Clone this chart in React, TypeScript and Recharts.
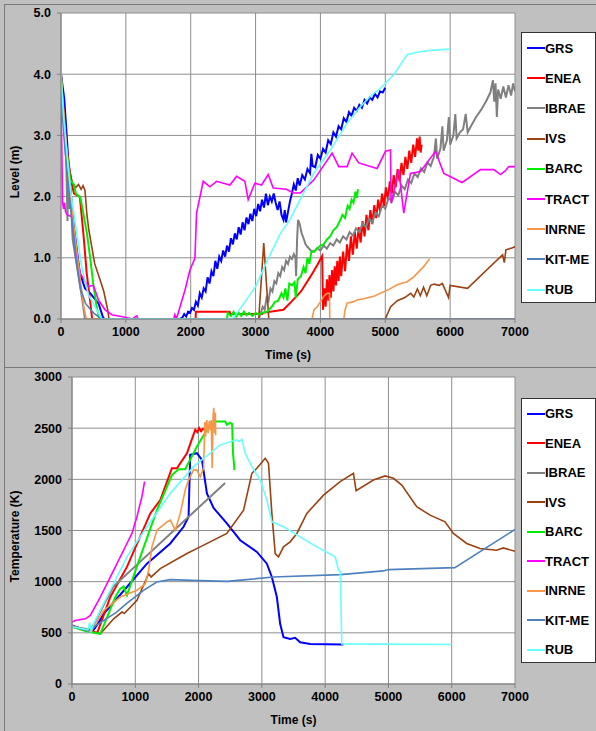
import React from "react";
import { CartesianGrid, Label, Legend, Line, LineChart, XAxis, YAxis } from "recharts";

type Pt = [number, number];

const timeTicks = [0, 1000, 2000, 3000, 4000, 5000, 6000, 7000];
const levelTicks = [0, 1, 2, 3, 4, 5];
const tempTicks = [0, 500, 1000, 1500, 2000, 2500, 3000];

const names = ["GRS", "ENEA", "IBRAE", "IVS", "BARC", "TRACT", "INRNE", "KIT-ME", "RUB"];
const colors = ["#0000ff", "#ff0000", "#808080", "#9c4110", "#00ee00", "#ff00ff", "#f79646", "#4f81bd", "#66ffff"];

// ---- level (m) ----
const grsLevel: Pt[] = [
  [0, 4.0], [50, 3.6], [100, 2.8], [130, 2.3], [200, 1.5], [290, 0.75], [370, 0.5], [450, 0.42], [580, 0.25], [650, 0.02], [680, 0],
  [1830, 0], [1870, 0.02], [1900, 0.08], [1930, 0.04], [1960, 0.12], [1990, 0.1], [2020, 0.18], [2050, 0.15], [2080, 0.28],
  [2110, 0.22], [2140, 0.42], [2170, 0.35], [2200, 0.5], [2230, 0.45], [2260, 0.68], [2290, 0.58], [2320, 0.78], [2350, 0.7],
  [2380, 0.95], [2410, 0.82], [2440, 1.02], [2470, 0.95], [2500, 1.12], [2530, 1.02], [2560, 1.2], [2590, 1.1], [2620, 1.32],
  [2650, 1.22], [2680, 1.4], [2710, 1.3], [2740, 1.5], [2770, 1.38], [2800, 1.58], [2830, 1.45], [2860, 1.66], [2890, 1.55],
  [2920, 1.72], [2950, 1.6], [2980, 1.8], [3010, 1.68], [3040, 1.88], [3070, 1.76], [3100, 1.95], [3130, 1.82], [3160, 2.05],
  [3190, 1.86], [3220, 2.0], [3250, 1.92], [3280, 2.05], [3310, 1.9], [3340, 1.78], [3370, 1.92], [3400, 1.7], [3430, 1.62],
  [3450, 1.78], [3470, 1.58], [3500, 1.75], [3530, 1.92], [3560, 2.05], [3590, 2.2], [3620, 2.1], [3650, 2.3], [3680, 2.18],
  [3720, 2.35], [3760, 2.28], [3800, 2.45], [3840, 2.38], [3860, 2.7], [3880, 2.5], [3920, 2.48], [3960, 2.68], [4000, 2.62],
  [4040, 2.78], [4080, 2.72], [4120, 2.92], [4160, 2.86], [4200, 3.05], [4240, 2.98], [4280, 3.15], [4320, 3.1], [4360, 3.28],
  [4400, 3.22], [4440, 3.38], [4480, 3.32], [4520, 3.45], [4560, 3.4], [4600, 3.5], [4640, 3.45], [4680, 3.58], [4720, 3.52],
  [4760, 3.62], [4800, 3.58], [4840, 3.68], [4880, 3.62], [4920, 3.72], [4960, 3.7], [5000, 3.78],
];
const eneaLevel: Pt[] = [
  [0, 4.0], [60, 3.0], [150, 2.3], [200, 2.05], [290, 2.0], [345, 1.4], [396, 0.75], [448, 0.31], [480, 0],
  [2075, 0], [2080, 0.12], [2600, 0.12], [2610, 0.08], [3100, 0.08], [3110, 0.1], [3430, 0.15], [3550, 0.28], [3700, 0.45],
  [3850, 0.7], [3950, 0.88], [4027, 1.03], [4040, 0.15], [4060, 0.5], [4080, 0.2], [4100, 0.65], [4120, 0.3], [4140, 0.72],
  [4160, 0.35], [4180, 0.8], [4200, 0.45], [4220, 0.86], [4240, 0.55], [4260, 0.95], [4280, 0.62], [4300, 1.02], [4320, 0.7],
  [4350, 1.1], [4380, 0.78], [4410, 1.22], [4440, 0.95], [4470, 1.35], [4500, 1.05], [4530, 1.42], [4560, 1.15], [4590, 1.5],
  [4620, 1.25], [4650, 1.6], [4680, 1.35], [4710, 1.7], [4740, 1.45], [4770, 1.78], [4800, 1.55], [4830, 1.86], [4860, 1.65],
  [4890, 1.95], [4920, 1.75], [4950, 2.05], [4980, 1.85], [5010, 2.15], [5040, 1.95], [5070, 2.25], [5100, 2.05], [5130, 2.35],
  [5160, 2.15], [5190, 2.45], [5220, 2.25], [5250, 2.55], [5280, 2.35], [5310, 2.65], [5340, 2.45], [5370, 2.75], [5400, 2.55],
  [5430, 2.85], [5460, 2.65], [5490, 2.95], [5510, 2.75], [5530, 2.98], [5545, 2.72], [5560, 2.85],
];
const ibraeLevel: Pt[] = [
  [0, 3.9], [40, 3.2], [80, 2.6], [100, 1.6], [110, 2.4], [130, 1.8], [150, 2.0], [180, 1.3], [270, 0.7], [330, 0.3], [370, 0],
  [3050, 0], [3080, 0.1], [3110, 0.2], [3140, 0.15], [3170, 0.35], [3200, 0.3], [3230, 0.5], [3260, 0.45], [3290, 0.62],
  [3320, 0.58], [3350, 0.75], [3380, 0.7], [3410, 0.85], [3440, 0.8], [3470, 0.95], [3500, 0.9], [3530, 1.02], [3560, 0.98],
  [3590, 1.06], [3615, 1.0], [3625, 0.7], [3640, 1.3], [3655, 1.62], [3680, 1.55], [3710, 1.4], [3740, 1.32], [3770, 1.22],
  [3800, 1.18], [3850, 1.12], [3900, 1.1], [3950, 1.16], [4000, 1.12], [4050, 1.2], [4100, 1.15], [4150, 1.24], [4200, 1.2],
  [4250, 1.3], [4300, 1.25], [4350, 1.35], [4400, 1.3], [4450, 1.42], [4500, 1.36], [4550, 1.48], [4600, 1.42], [4650, 1.56],
  [4700, 1.5], [4750, 1.64], [4800, 1.58], [4850, 1.74], [4900, 1.68], [4950, 1.86], [5000, 1.8], [5050, 1.98], [5100, 1.92],
  [5150, 2.08], [5200, 2.02], [5250, 2.18], [5300, 2.12], [5350, 2.28], [5400, 2.22], [5450, 2.38], [5500, 2.32], [5550, 2.46],
  [5600, 2.4], [5650, 2.56], [5700, 2.5], [5750, 2.65], [5780, 2.95], [5800, 2.62], [5850, 2.78], [5880, 3.15], [5900, 2.75],
  [5950, 2.92], [5980, 3.3], [6000, 2.85], [6050, 3.0], [6080, 3.35], [6100, 2.95], [6150, 3.05], [6200, 3.1], [6240, 3.35],
  [6270, 3.05], [6320, 3.15], [6400, 3.3], [6480, 3.42], [6550, 3.55], [6620, 3.7], [6660, 3.9], [6680, 3.55], [6700, 3.85],
  [6720, 3.3], [6740, 3.75], [6780, 3.6], [6820, 3.8], [6860, 3.62], [6900, 3.82], [6940, 3.65], [6970, 3.85], [7000, 3.72],
];
const ivsLevel: Pt[] = [
  [0, 4.0], [60, 3.0], [120, 2.5], [180, 2.2], [230, 2.15], [270, 2.2], [310, 2.12], [340, 2.18], [370, 2.1], [400, 1.7],
  [430, 1.45], [520, 0.9], [600, 0.65], [660, 0.45], [720, 0.15], [740, 0],
  [3048, 0], [3126, 1.24], [3204, 0], [5000, 0], [5083, 0.2], [5186, 0.3], [5300, 0.35], [5392, 0.42], [5440, 0.36],
  [5495, 0.49], [5540, 0.38], [5590, 0.52], [5640, 0.38], [5700, 0.55], [5750, 0.57], [5830, 0.55], [5880, 0.58],
  [5975, 0.35], [6000, 0.55], [6268, 0.5], [6809, 1.05], [6835, 0.92], [6860, 1.13], [6950, 1.16], [7000, 1.18],
];
const barcLevel: Pt[] = [
  [0, 4.0], [30, 3.4], [80, 2.8], [140, 2.27], [200, 2.2], [230, 2.05], [300, 1.98], [340, 1.75], [400, 1.4], [450, 1.0],
  [500, 0.55], [550, 0.2], [590, 0],
  [2560, 0], [2570, 0.1], [2620, 0.05], [2660, 0.12], [2700, 0.04], [2740, 0.1], [2780, 0.05], [2820, 0.12], [2860, 0.06],
  [2900, 0.1], [2950, 0.05], [3000, 0.1], [3050, 0.07], [3100, 0.1], [3180, 0.12], [3250, 0.2], [3300, 0.28], [3350, 0.3],
  [3400, 0.42], [3430, 0.35], [3460, 0.5], [3490, 0.3], [3520, 0.58], [3560, 0.55], [3600, 0.6], [3620, 0.35], [3650, 0.65],
  [3700, 0.7], [3740, 0.85], [3770, 0.75], [3800, 1.0], [3830, 0.9], [3860, 1.1], [3900, 1.1], [3950, 1.15], [4000, 1.2],
  [4050, 1.22], [4100, 1.3], [4150, 1.35], [4200, 1.45], [4250, 1.5], [4300, 1.6], [4340, 1.7], [4380, 1.65], [4420, 1.85],
  [4450, 1.8], [4480, 1.95], [4510, 1.9], [4540, 2.08], [4560, 1.98], [4580, 2.12],
];
const tractLevel: Pt[] = [
  [0, 3.7], [25, 1.9], [40, 1.8], [55, 1.9], [70, 1.75], [100, 1.7], [165, 1.67], [216, 1.18], [294, 0.75], [422, 0.53],
  [500, 0.55], [577, 0.31], [680, 0.15], [783, 0.07], [989, 0.03], [1100, 0], [1168, 0.05], [1190, 0], [1740, 0],
  [1756, 0.07], [1780, 0], [1911, 0.47], [1988, 0.8], [2065, 0.99], [2090, 1.73], [2193, 2.25], [2296, 2.16], [2399, 2.25],
  [2604, 2.19], [2707, 2.33], [2835, 2.25], [2886, 1.95], [2989, 2.22], [3092, 2.19], [3195, 2.36], [3272, 2.14],
  [3477, 2.12], [3580, 2.06], [3692, 2.06], [3897, 2.27], [4180, 2.71], [4283, 2.49], [4411, 2.49], [4488, 2.71],
  [4591, 2.55], [4874, 2.46], [5003, 2.74], [5080, 2.76], [5090, 1.89], [5208, 2.44], [5285, 1.73], [5388, 2.38],
  [5542, 2.41], [5774, 2.74], [5902, 2.38], [6185, 2.23], [6468, 2.44], [6674, 2.44], [6776, 2.36], [6850, 2.42],
  [6905, 2.49], [7000, 2.49],
];
const inrneLevel: Pt[] = [
  [0, 3.95], [50, 3.3], [100, 2.6], [150, 2.0], [200, 1.5], [280, 0.8], [350, 0.2], [390, 0],
  [3870, 0], [3900, 0.15], [3950, 0.2], [4000, 0.28], [4051, 0.37], [4103, 0.42], [4140, 0.42], [4144, 0], [4360, 0],
  [4380, 0.15], [4411, 0.26], [4500, 0.28], [4566, 0.31], [4700, 0.34], [4823, 0.37], [4925, 0.42], [5050, 0.48],
  [5183, 0.56], [5337, 0.61], [5440, 0.69], [5594, 0.86], [5681, 0.98],
];
const kitLevel: Pt[] = [
  [0, 3.7], [60, 2.8], [110, 2.2], [170, 1.6], [230, 1.0], [300, 0.5], [380, 0.25], [500, 0.1], [600, 0.02], [650, 0], [7000, 0],
];
const rubLevel: Pt[] = [
  [0, 4.0], [40, 3.3], [100, 2.6], [160, 2.0], [216, 1.6], [319, 0.85], [422, 0.4], [577, 0.1], [630, 0],
  [2640, 0], [2700, 0.08], [2850, 0.3], [3000, 0.53], [3200, 1.0], [3383, 1.4], [3529, 1.62], [3700, 1.98], [3897, 2.38],
  [4154, 2.76], [4411, 3.2], [4600, 3.45], [4771, 3.64], [4925, 3.77], [5131, 3.99], [5337, 4.32], [5491, 4.36],
  [5697, 4.39], [5995, 4.41],
];

// ---- temperature (K) ----
const grsTemp: Pt[] = [
  [0, 572], [150, 540], [316, 507], [400, 580], [500, 686], [868, 948], [1184, 1176], [1553, 1373], [1763, 1536],
  [1842, 1634], [1868, 2239], [1974, 2255], [2053, 2190], [2132, 1863], [2237, 1720], [2447, 1569], [2658, 1405],
  [2921, 1291], [3079, 1176], [3158, 1046], [3237, 850], [3289, 588], [3342, 458], [3447, 441], [3526, 451], [3605, 408],
  [3763, 392], [4289, 386],
];
const eneaTemp: Pt[] = [
  [0, 560], [200, 530], [400, 500], [605, 850], [868, 1144], [1237, 1667], [1395, 1797], [1579, 2108], [1658, 2108],
  [1816, 2255], [1947, 2484], [1980, 2460], [2010, 2500], [2040, 2470], [2079, 2500],
];
const ibraeTemp: Pt[] = [[0, 560], [300, 530], [650, 950], [2420, 1965]];
const ivsTemp: Pt[] = [
  [0, 560], [200, 530], [447, 490], [658, 637], [789, 703], [830, 690], [1026, 817], [1211, 1078], [1250, 1046],
  [1395, 1127], [1816, 1275], [2026, 1340], [2447, 1471], [2711, 1699], [2842, 2059], [2921, 2108], [3053, 2206],
  [3105, 2157], [3158, 1667], [3211, 1275], [3263, 1242], [3342, 1340], [3447, 1389], [3553, 1471], [3711, 1667],
  [3974, 1846], [4237, 1977], [4447, 2059], [4489, 1889], [4763, 1993], [4947, 2033], [5079, 2010], [5211, 1944],
  [5447, 1732], [5658, 1650], [5895, 1585], [6026, 1471], [6237, 1373], [6447, 1324], [6711, 1307], [6816, 1330],
  [7000, 1297],
];
const barcTemp: Pt[] = [
  [0, 560], [200, 520], [447, 490], [684, 850], [760, 930], [816, 954], [868, 866], [1079, 1242], [1342, 1699],
  [1579, 2042], [1684, 2098], [1789, 2098], [1974, 2320], [2132, 2484], [2263, 2565], [2421, 2565], [2447, 2533],
  [2500, 2553], [2530, 2540], [2545, 2250], [2560, 2150], [2565, 2090],
];
const tractTemp: Pt[] = [
  [0, 605], [50, 621], [211, 637], [290, 670], [447, 850], [658, 1111], [868, 1373], [947, 1471], [1026, 1634],
  [1105, 1830], [1147, 1977],
];
const inrneTemp: Pt[] = [
  [0, 570], [300, 510], [500, 719], [763, 850], [1026, 915], [1158, 980], [1211, 1111], [1263, 1340], [1342, 1503],
  [1500, 1585], [1553, 1601], [1632, 1503], [1711, 1667], [1789, 1895], [1842, 1993], [1921, 2092], [1970, 2092],
  [2026, 2026], [2079, 2108], [2100, 2560], [2110, 2420], [2130, 2580], [2150, 2450], [2170, 2570], [2190, 2480],
  [2200, 2580], [2215, 2110], [2230, 2620], [2240, 2700], [2255, 2450], [2265, 2650], [2270, 2430],
];
const kitTemp: Pt[] = [
  [0, 565], [250, 520], [450, 600], [700, 700], [870, 790], [1130, 915], [1340, 997], [1550, 1020], [1900, 1013],
  [2450, 1003], [2760, 1020], [3180, 1046], [4240, 1069], [4920, 1105], [5000, 1118], [6050, 1137], [7000, 1510],
];
const rubTemp: Pt[] = [
  [0, 560], [250, 530], [280, 600], [300, 520], [342, 588], [553, 850], [868, 1242], [1184, 1536], [1553, 1863],
  [1921, 2124], [2342, 2337], [2605, 2386], [2640, 2370], [2684, 2390], [2737, 2255], [2842, 2124], [2974, 1993],
  [3079, 1797], [3158, 1585], [3342, 1536], [3605, 1438], [3868, 1340], [4158, 1242], [4211, 1111], [4240, 1100],
  [4263, 392], [4800, 390], [6000, 386],
];

const levelSeries = [grsLevel, eneaLevel, ibraeLevel, ivsLevel, barcLevel, tractLevel, inrneLevel, kitLevel, rubLevel];
const tempSeries = [grsTemp, eneaTemp, ibraeTemp, ivsTemp, barcTemp, tractTemp, inrneTemp, kitTemp, rubTemp];
const widths = [2, 2, 2, 1.6, 2, 1.6, 1.6, 1.6, 1.6];

const toPts = (arr: Pt[]) => arr.map(([t, v]) => ({ t, v }));

const font = "Arial, 'Liberation Sans', sans-serif";
const tickStyle = { fill: "#000", fontFamily: font, fontWeight: 700, fontSize: 12.5 };
const titleStyle = { fill: "#000", fontFamily: font, fontWeight: 700, fontSize: 12 };

const yTitle = (text: string) => (props: any) => {
  const vb = props.viewBox;
  const x = 15;
  const y = vb.y + vb.height / 2 + 6;
  return (
    <text x={x} y={y} transform={`rotate(-90 ${x} ${y})`} textAnchor="middle" dominantBaseline="central" style={titleStyle}>
      {text}
    </text>
  );
};

const xTitle = (props: any) => {
  const vb = props.viewBox;
  return (
    <text x={vb.x + vb.width / 2} y={vb.y + 36} textAnchor="middle" dominantBaseline="central" style={titleStyle}>
      Time (s)
    </text>
  );
};

const legendBox = (gap: number) => () => (
  <div
    style={{
      width: "100%", height: "100%", background: "#fff", border: "1px solid #333",
      boxSizing: "border-box", paddingTop: 0,
    }}
  >
    {names.map((n, i) => (
      <div key={n} style={{ height: gap, display: "flex", alignItems: "center" }}>
        <span style={{ display: "inline-block", width: 18, height: 2, background: colors[i], marginLeft: 5 }} />
        <span style={{ fontFamily: font, fontWeight: 700, fontSize: 13, color: "#000" }}>{n}</span>
      </div>
    ))}
  </div>
);

interface PanelProps {
  height: number;
  top: number;
  yWidth: number;
  ticks: number[];
  yMax: number;
  fmt: (v: number) => string;
  series: Pt[][];
  ylabel: string;
  legendTop: number;
  legendHeight: number;
  gap: number;
}

const Panel = (p: PanelProps) => (
  <LineChart
    width={596}
    height={p.height}
    margin={{ top: p.top, right: 81, bottom: 0, left: 0 }}
    style={{ position: "absolute", left: 0, top: 0 }}
  >
    <CartesianGrid stroke="#8e8e8e" fill="#fff" horizontalValues={p.ticks} verticalValues={timeTicks} />
    <XAxis
      dataKey="t"
      type="number"
      domain={[0, 7000]}
      ticks={timeTicks}
      allowDataOverflow
      height={p.height - p.top - 306 > 47 ? 47 : p.height - p.top - 306}
      tick={tickStyle}
      tickSize={4}
      tickMargin={4}
      stroke="#808080"
    >
      <Label content={xTitle} />
    </XAxis>
    <YAxis
      type="number"
      domain={[0, p.yMax]}
      ticks={p.ticks}
      allowDataOverflow
      width={p.yWidth}
      tick={tickStyle}
      tickFormatter={p.fmt}
      tickSize={4}
      tickMargin={6}
      stroke="#808080"
    >
      <Label content={yTitle(p.ylabel)} />
    </YAxis>
    <Legend
      layout="horizontal"
      verticalAlign="middle"
      align="center"
      content={legendBox(p.gap)}
      wrapperStyle={{ position: "absolute", left: 521, top: p.legendTop, width: 75, height: p.legendHeight }}
    />
    {p.series.map((s, i) => (
      <Line
        key={names[i]}
        data={toPts(s)}
        dataKey="v"
        name={names[i]}
        stroke={colors[i]}
        strokeWidth={widths[i]}
        dot={false}
        activeDot={false}
        type="linear"
        isAnimationActive={false}
      />
    ))}
  </LineChart>
);

export default function App() {
  return (
    <div style={{ position: "absolute", left: 0, top: 0, width: 596, height: 731, background: "#c0c0c0", overflow: "hidden" }}>
      <div style={{ position: "absolute", left: 4, top: 4, width: 600, height: 362, borderTop: "1px solid #7a7a7a", borderLeft: "1px solid #7a7a7a", borderBottom: "1px solid #7a7a7a" }} />
      <div style={{ position: "absolute", left: 4, top: 367, width: 600, height: 400, borderTop: "1px solid #7a7a7a", borderLeft: "1px solid #7a7a7a" }} />
      <div style={{ position: "absolute", left: 0, top: 0, width: 596, height: 366 }}>
        <Panel
          height={366}
          top={13}
          yWidth={61}
          ticks={levelTicks}
          yMax={5}
          fmt={(v) => v.toFixed(1)}
          series={levelSeries}
          ylabel="Level (m)"
          legendTop={32}
          legendHeight={271}
          gap={30.2}
        />
      </div>
      <div style={{ position: "absolute", left: 0, top: 366, width: 596, height: 365 }}>
        <Panel
          height={365}
          top={11}
          yWidth={72}
          ticks={tempTicks}
          yMax={3000}
          fmt={(v) => String(v)}
          series={tempSeries}
          ylabel="Temperature (K)"
          legendTop={32}
          legendHeight={265}
          gap={29.5}
        />
      </div>
    </div>
  );
}
